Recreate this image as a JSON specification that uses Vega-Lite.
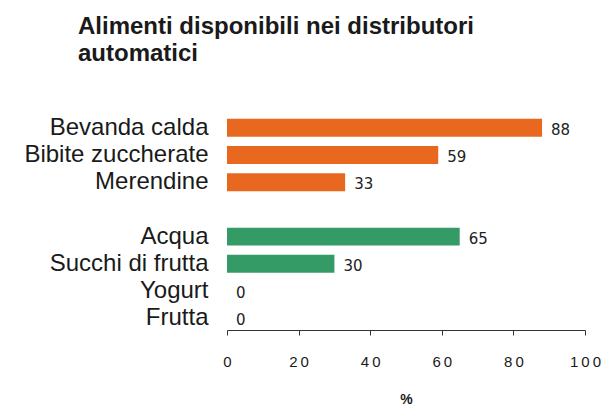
{
  "$schema": "https://vega.github.io/schema/vega-lite/v6.json",
  "autosize": {"type": "none"},
  "padding": {"left": 227, "top": 116, "right": 16, "bottom": 77},
  "width": 358,
  "height": 214,
  "background": "white",
  "title": {
    "text": ["Alimenti disponibili nei distributori", "automatici"],
    "anchor": "start",
    "frame": "group",
    "dx": -149,
    "offset": 49,
    "font": "Liberation Sans",
    "fontSize": 24,
    "fontWeight": "bold",
    "color": "#1a1a1a",
    "lineHeight": 27
  },
  "data": {
    "values": [
      {"alimento": "Bevanda calda", "gruppo": "A", "valore": 88},
      {"alimento": "Bibite zuccherate", "gruppo": "A", "valore": 59},
      {"alimento": "Merendine", "gruppo": "A", "valore": 33},
      {"alimento": "Acqua", "gruppo": "B", "valore": 65},
      {"alimento": "Succhi di frutta", "gruppo": "B", "valore": 30},
      {"alimento": "Yogurt", "gruppo": "B", "valore": 0},
      {"alimento": "Frutta", "gruppo": "B", "valore": 0}
    ]
  },
  "encoding": {
    "y": {
      "field": "alimento",
      "type": "nominal",
      "scale": {
        "domain": ["Bevanda calda", "Bibite zuccherate", "Merendine", "gap", "Acqua", "Succhi di frutta", "Yogurt", "Frutta"],
        "paddingInner": 0.34,
        "paddingOuter": 0.1
      },
      "axis": {
        "title": null,
        "domain": false,
        "ticks": false,
        "labelExpr": "datum.value == 'gap' ? '' : datum.value",
        "labelFont": "Liberation Sans",
        "labelFontSize": 24,
        "labelColor": "#1a1a1a",
        "labelPadding": 19,
        "labelLimit": 300
      }
    },
    "x": {
      "field": "valore",
      "type": "quantitative",
      "scale": {"domain": [0, 100]},
      "axis": {
        "title": "%",
        "titleFont": "Liberation Sans",
        "titleFontSize": 14,
        "titleFontWeight": "bold",
        "titleColor": "#1a1a1a",
        "titlePadding": 23,
        "values": [0, 20, 40, 60, 80, 100],
        "labelExpr": "join(split(datum.label, ''), '\u2009')",
        "labelFlush": false,
        "labelOverlap": false,
        "grid": false,
        "domainColor": "#333333",
        "tickColor": "#333333",
        "tickSize": 5,
        "labelFont": "Liberation Sans",
        "labelFontSize": 15,
        "labelColor": "#1a1a1a",
        "labelPadding": 19
      }
    }
  },
  "layer": [
    {
      "mark": {"type": "bar"},
      "encoding": {
        "color": {
          "field": "gruppo",
          "type": "nominal",
          "scale": {"domain": ["A", "B"], "range": ["#E9681F", "#349B67"]},
          "legend": null
        }
      }
    },
    {
      "mark": {"type": "text", "align": "left", "baseline": "middle", "dx": 9, "dy": 2, "font": "DejaVu Sans", "fontSize": 15, "color": "#222222"},
      "encoding": {"text": {"field": "valore", "type": "quantitative"}}
    }
  ],
  "config": {"view": {"stroke": null}}
}
